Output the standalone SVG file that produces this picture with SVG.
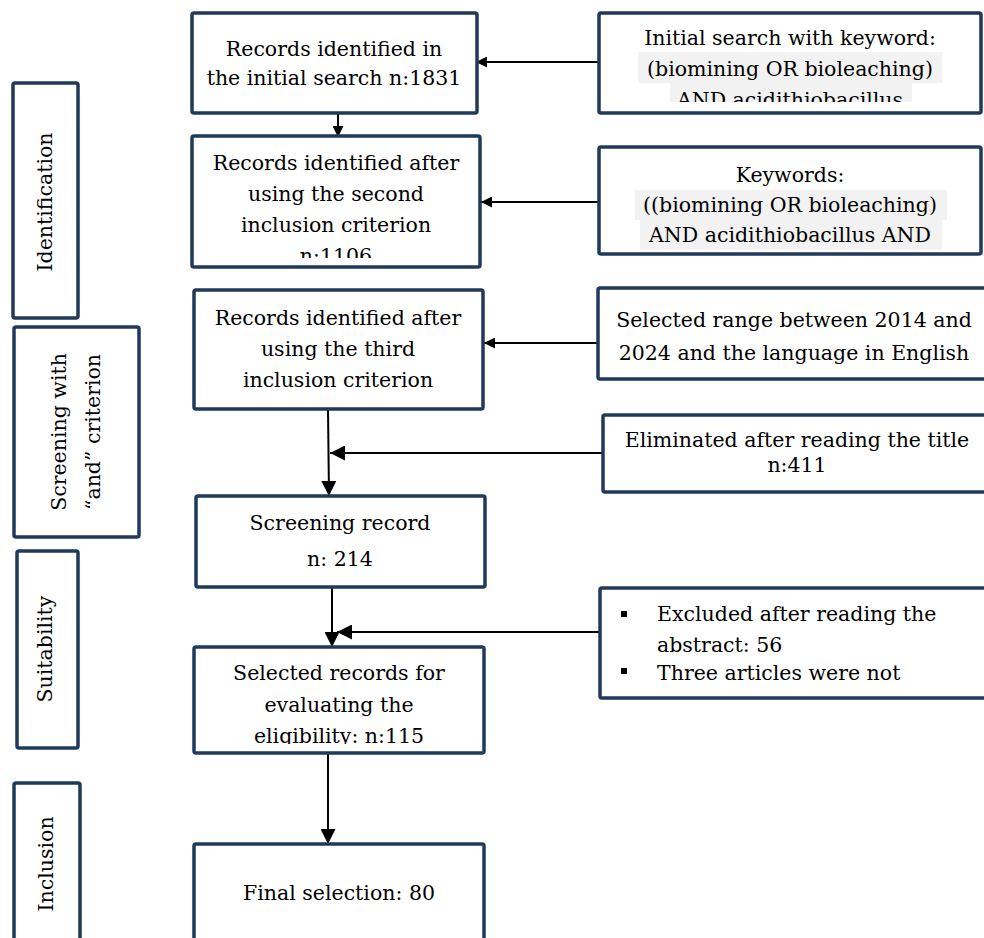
<svg xmlns="http://www.w3.org/2000/svg" width="984" height="938" viewBox="0 0 984 938">
<style>
.box{fill:#fff;stroke:#1f3a5c;stroke-width:3.5}
.t{font-family:"DejaVu Serif","Liberation Serif",serif;font-size:20.5px;fill:#000;text-anchor:middle}
.tl{font-family:"DejaVu Serif","Liberation Serif",serif;font-size:20.5px;fill:#000}
.c{stroke:#000;stroke-width:2;fill:none}
.hl{fill:#f2f2f2}
</style>
<defs>
<marker id="ah" viewBox="0 0 10 10" refX="10" refY="5" markerWidth="11" markerHeight="11" markerUnits="userSpaceOnUse" orient="auto"><path d="M0,0 L10,5 L0,10 z" fill="#000"/></marker>
<marker id="ahL" viewBox="0 0 10 10" refX="10" refY="5" markerWidth="15" markerHeight="15" markerUnits="userSpaceOnUse" orient="auto"><path d="M0,0 L10,5 L0,10 z" fill="#000"/></marker>
<clipPath id="cb2"><rect x="192" y="136" width="288" height="122"/></clipPath>
<clipPath id="cr1"><rect x="599" y="13" width="382" height="89"/></clipPath>
<clipPath id="cb5"><rect x="194" y="647" width="290" height="97"/></clipPath>
</defs>

<g id="stage-identification">
<rect class="box" x="13" y="83" width="65" height="235" rx="2"/>
<text class="t" transform="translate(52,202) rotate(-90)">Identification</text>
</g>
<g id="stage-screening">
<rect class="box" x="14" y="327" width="125" height="210" rx="2"/>
<text class="t" transform="translate(66,432) rotate(-90)">Screening with</text>
<text class="t" transform="translate(100,432) rotate(-90)">“and” criterion</text>
</g>
<g id="stage-suitability">
<rect class="box" x="17" y="551" width="61" height="197" rx="2"/>
<text class="t" transform="translate(52,649) rotate(-90)">Suitability</text>
</g>
<g id="stage-inclusion">
<rect class="box" x="14" y="783" width="66" height="170" rx="2"/>
<text class="t" transform="translate(53,864) rotate(-90)">Inclusion</text>
</g>

<g id="connectors">
<line class="c" x1="338" y1="113" x2="338" y2="137" marker-end="url(#ah)"/>
<line class="c" x1="599" y1="62" x2="476" y2="62" marker-end="url(#ah)"/>
<line class="c" x1="599" y1="202" x2="481" y2="202" marker-end="url(#ah)"/>
<line class="c" x1="598" y1="343" x2="484" y2="343" marker-end="url(#ah)"/>
<line class="c" x1="328" y1="409" x2="329" y2="496" marker-end="url(#ahL)"/>
<line class="c" x1="603" y1="453" x2="330" y2="453" marker-end="url(#ahL)"/>
<line class="c" x1="332" y1="587" x2="332" y2="647" marker-end="url(#ahL)"/>
<line class="c" x1="600" y1="632" x2="337" y2="632" marker-end="url(#ahL)"/>
<line class="c" x1="328" y1="753" x2="328" y2="844" marker-end="url(#ahL)"/>
</g>

<g id="records-initial">
<rect class="box" x="192" y="13" width="285" height="100" rx="2"/>
<text class="t" x="334" y="56">Records identified in</text>
<text class="t" x="334" y="85">the initial search n:1831</text>
</g>
<g id="records-second">
<rect class="box" x="192" y="136" width="288" height="131" rx="2"/>
<g clip-path="url(#cb2)">
<text class="t" x="336" y="170">Records identified after</text>
<text class="t" x="336" y="201">using the second</text>
<text class="t" x="336" y="232">inclusion criterion</text>
<text class="t" x="336" y="263">n:1106</text>
</g>
</g>
<g id="records-third">
<rect class="box" x="194" y="290" width="289" height="119" rx="2"/>
<text class="t" x="338" y="325">Records identified after</text>
<text class="t" x="338" y="356">using the third</text>
<text class="t" x="338" y="387">inclusion criterion</text>
</g>
<g id="screening-record">
<rect class="box" x="196" y="496" width="289" height="91" rx="2"/>
<text class="t" x="340" y="530">Screening record</text>
<text class="t" x="340" y="566">n: 214</text>
</g>
<g id="selected-records">
<rect class="box" x="194" y="647" width="290" height="106" rx="2"/>
<g clip-path="url(#cb5)">
<text class="t" x="339" y="680">Selected records for</text>
<text class="t" x="339" y="712">evaluating the</text>
<text class="t" x="339" y="743">eligibility: n:115</text>
</g>
</g>
<g id="final-selection">
<rect class="box" x="194" y="844" width="290" height="110" rx="2"/>
<text class="t" x="339" y="900">Final selection: 80</text>
</g>

<g id="initial-search">
<rect class="box" x="599" y="13" width="382" height="100" rx="2"/>
<rect class="hl" x="638" y="52" width="304" height="31"/>
<rect class="hl" x="670" y="83" width="242" height="19"/>
<g clip-path="url(#cr1)">
<text class="t" x="790" y="45">Initial search with keyword:</text>
<text class="t" x="790" y="76">(biomining OR bioleaching)</text>
<text class="t" x="790" y="107">AND acidithiobacillus</text>
</g>
</g>
<g id="keywords">
<rect class="box" x="599" y="147" width="382" height="107" rx="2"/>
<rect class="hl" x="635" y="190" width="312" height="30"/>
<rect class="hl" x="640" y="220" width="302" height="30"/>
<text class="t" x="790" y="182">Keywords:</text>
<text class="t" x="790" y="212">((biomining OR bioleaching)</text>
<text class="t" x="790" y="242">AND acidithiobacillus AND</text>
</g>
<g id="date-range">
<rect class="box" x="598" y="288" width="392" height="91" rx="2"/>
<text class="t" x="794" y="327">Selected range between 2014 and</text>
<text class="t" x="794" y="360">2024 and the language in English</text>
</g>
<g id="eliminated-title">
<rect class="box" x="603" y="415" width="387" height="77" rx="2"/>
<text class="t" x="797" y="447">Eliminated after reading the title</text>
<text class="t" x="797" y="472">n:411</text>
</g>
<g id="excluded-abstract">
<rect class="box" x="600" y="588" width="390" height="110" rx="2"/>
<rect x="621" y="611" width="6" height="6" fill="#000"/>
<rect x="621" y="668" width="6" height="6" fill="#000"/>
<text class="tl" x="657" y="621">Excluded after reading the</text>
<text class="tl" x="657" y="652">abstract: 56</text>
<text class="tl" x="657" y="680">Three articles were not</text>
</g>
</svg>
